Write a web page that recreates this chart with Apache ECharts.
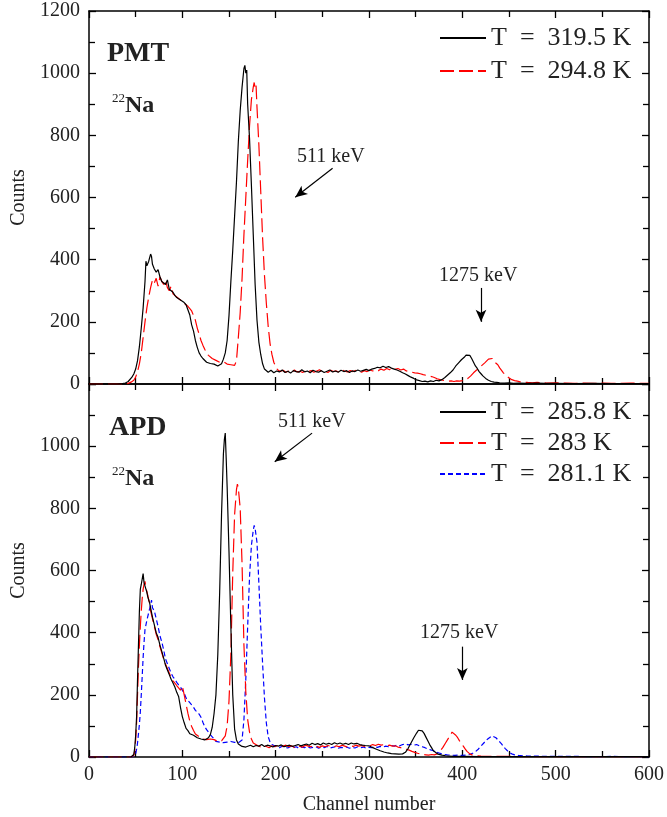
<!DOCTYPE html>
<html>
<head>
<meta charset="utf-8">
<script src="https://cdn.jsdelivr.net/npm/echarts/dist/echarts.min.js"></script>
<style>
html,body{margin:0;padding:0;background:#fff;}
#chart{width:667px;height:817px;}
</style>
</head>
<body>
<div id="chart"></div>
<script>
// ---------- data (channel, counts) ----------
const xTicks = [0, 100, 200, 300, 400, 500, 600];
const yTicks = [0, 200, 400, 600, 800, 1000, 1200];

const seriesNames = {
  pmtA: 'T = 319.5 K', pmtB: 'T = 294.8 K',
  apdA: 'T = 285.8 K', apdB: 'T = 283 K', apdC: 'T = 281.1 K'
};

const pmt3195 = [[0,0],[30,0],[36,1],[39,3],[42,8],[44,14],[46,22],[48,32],[50,48],[52,75],[54,120],[56,180],[58,245],[60,330],[61,395],[62,380],[64,395],[66,418],[67,410],[68,385],[70,370],[72,360],[74,368],[76,345],[78,330],[80,325],[82,320],[84,335],[86,305],[88,300],[90,295],[92,285],[94,278],[96,275],[98,270],[100,268],[102,262],[104,255],[106,250],[108,222],[110,190],[112,170],[114,140],[116,118],[118,100],[120,90],[122,82],[124,78],[126,70],[128,68],[130,66],[132,60],[134,64],[136,62],[138,58],[140,62],[142,65],[144,80],[146,100],[148,140],[150,220],[152,330],[154,430],[156,540],[158,650],[160,780],[162,880],[164,955],[166,1015],[167,1025],[168,1000],[169,1010],[170,900],[172,790],[174,640],[176,480],[178,320],[180,205],[182,135],[184,95],[186,65],[188,48],[190,42],[192,38],[195,44],[198,36],[201,42],[204,39],[207,45],[210,37],[213,41],[216,35],[219,43],[222,40],[225,38],[228,46],[231,39],[234,42],[237,36],[240,44],[243,40],[246,38],[249,43],[252,37],[255,41],[258,45],[261,39],[264,42],[267,38],[270,44],[273,40],[276,43],[279,37],[282,42],[285,40],[288,45],[291,41],[294,44],[297,47],[300,43],[303,48],[306,50],[309,54],[312,52],[315,57],[318,53],[321,56],[324,51],[327,48],[330,45],[333,41],[336,36],[339,32],[342,27],[345,22],[348,18],[351,13],[354,11],[357,8],[360,9],[363,7],[366,10],[369,8],[372,12],[375,10],[378,14],[381,20],[384,28],[387,36],[390,45],[393,58],[396,68],[399,78],[402,86],[404,93],[406,88],[408,92],[410,82],[412,70],[414,58],[416,50],[418,40],[420,33],[422,26],[425,18],[428,12],[431,8],[434,6],[437,5],[440,4],[445,3],[450,4],[455,2],[460,3],[470,2],[480,3],[490,2],[500,2],[520,1],[540,2],[560,1],[580,1],[600,1]];

const pmt2948 = [[0,0],[38,0],[42,2],[45,6],[48,12],[50,22],[52,40],[54,65],[56,100],[58,150],[60,200],[62,245],[64,280],[66,310],[68,335],[70,325],[72,340],[74,315],[76,345],[78,330],[80,320],[82,335],[84,310],[86,300],[88,315],[90,290],[92,295],[94,280],[96,285],[98,270],[100,272],[102,260],[104,262],[106,250],[108,255],[110,235],[112,220],[114,205],[116,180],[118,160],[120,140],[122,125],[124,112],[126,100],[128,92],[130,88],[132,82],[134,78],[136,76],[138,72],[140,70],[142,68],[144,72],[146,66],[148,64],[150,68],[152,62],[154,65],[156,60],[158,75],[160,150],[162,230],[164,340],[166,480],[168,600],[170,720],[172,830],[174,915],[176,955],[177,970],[178,950],[179,960],[180,890],[182,770],[184,620],[186,470],[188,350],[190,260],[192,185],[194,130],[196,95],[198,70],[200,56],[202,46],[205,40],[208,44],[211,38],[214,42],[217,36],[220,45],[223,39],[226,41],[229,37],[232,44],[235,40],[238,43],[241,38],[244,42],[247,46],[250,39],[253,41],[256,37],[259,44],[262,40],[265,42],[268,38],[271,45],[274,41],[277,39],[280,43],[283,40],[286,44],[289,41],[292,38],[295,43],[298,40],[301,45],[304,42],[307,46],[310,43],[313,48],[316,44],[319,50],[322,46],[325,52],[328,47],[331,50],[334,45],[337,48],[340,42],[343,40],[346,38],[349,36],[352,35],[355,33],[358,30],[361,28],[364,26],[367,24],[370,21],[373,17],[376,14],[379,12],[382,11],[385,9],[388,10],[391,8],[394,10],[397,9],[400,11],[403,14],[406,18],[409,26],[412,36],[415,44],[418,52],[421,60],[424,68],[426,74],[428,80],[430,76],[432,82],[434,72],[436,70],[438,62],[440,52],[442,44],[444,36],[446,30],[448,24],[450,19],[453,14],[456,11],[459,9],[462,7],[466,6],[470,5],[475,4],[480,5],[490,3],[500,4],[510,3],[520,2],[530,3],[540,2],[550,3],[560,2],[570,2],[580,3],[590,2],[600,2]];

const apd2858 = [[0,0],[45,0],[47,2],[48,8],[49,30],[50,70],[51,130],[52,250],[53,360],[54,470],[55,540],[56,555],[57,560],[58,590],[59,560],[60,555],[61,540],[62,530],[63,515],[64,505],[65,495],[66,480],[68,450],[70,425],[72,400],[74,385],[76,360],[78,340],[80,318],[82,295],[84,280],[86,265],[88,250],[90,238],[92,225],[94,208],[96,195],[98,160],[100,130],[102,110],[104,92],[106,85],[108,75],[110,78],[112,70],[114,66],[116,62],[118,65],[120,58],[122,60],[124,55],[126,58],[128,62],[130,72],[132,95],[134,140],[136,200],[138,330],[140,530],[142,780],[144,975],[145,1020],[146,1042],[147,960],[148,870],[150,660],[152,420],[154,200],[156,90],[158,55],[160,42],[162,38],[164,34],[166,40],[168,32],[170,36],[173,38],[176,33],[179,37],[182,35],[185,40],[188,34],[191,38],[194,36],[197,32],[200,37],[203,35],[206,39],[209,33],[212,36],[215,38],[218,34],[221,37],[224,40],[227,36],[230,39],[233,42],[236,38],[239,44],[242,40],[245,43],[248,39],[251,45],[254,41],[257,44],[260,40],[263,46],[266,42],[269,45],[272,41],[275,44],[278,40],[281,45],[284,42],[287,44],[290,40],[293,38],[296,37],[300,36],[304,30],[308,25],[312,20],[316,16],[320,13],[324,11],[328,10],[332,9],[336,10],[339,15],[342,28],[345,45],[348,62],[351,77],[353,86],[355,92],[357,84],[359,76],[361,64],[363,52],[365,40],[367,30],[369,20],[371,14],[374,9],[378,6],[382,4],[386,3],[390,2],[400,2],[420,1],[450,1],[500,1],[550,1],[600,1]];

const apd283 = [[0,0],[45,0],[47,2],[48,6],[49,20],[50,55],[51,110],[52,200],[53,290],[54,360],[55,420],[56,470],[57,510],[58,540],[59,555],[60,565],[61,545],[62,540],[63,520],[64,505],[65,495],[66,470],[68,445],[70,420],[72,395],[74,378],[76,355],[78,335],[80,315],[82,298],[84,285],[86,270],[88,255],[90,245],[92,238],[94,230],[96,225],[98,215],[100,228],[102,200],[104,170],[106,140],[108,115],[110,98],[112,85],[114,74],[116,70],[118,65],[120,62],[122,58],[124,60],[126,56],[128,55],[130,58],[132,52],[134,56],[136,54],[138,50],[140,55],[142,52],[144,58],[146,68],[148,100],[150,180],[152,330],[154,590],[156,780],[158,860],[159,878],[160,865],[162,800],[164,620],[166,360],[168,210],[170,120],[172,80],[174,58],[176,45],[178,40],[181,36],[184,32],[187,38],[190,34],[193,30],[196,36],[199,33],[202,37],[205,31],[208,35],[211,38],[214,33],[217,36],[220,31],[223,37],[226,34],[229,32],[232,38],[235,35],[238,33],[241,37],[244,34],[247,31],[250,36],[253,33],[256,37],[259,34],[262,32],[265,36],[268,33],[271,38],[274,35],[277,32],[280,36],[283,34],[286,38],[289,35],[292,37],[295,34],[298,38],[301,36],[304,40],[307,37],[310,41],[313,38],[316,40],[319,36],[322,38],[325,35],[328,36],[331,32],[334,30],[337,28],[340,25],[343,22],[346,18],[349,15],[352,12],[355,10],[358,8],[361,7],[364,6],[367,8],[370,7],[373,10],[376,18],[379,30],[382,45],[385,60],[387,70],[389,80],[391,74],[393,70],[395,62],[397,52],[399,44],[401,35],[403,26],[405,18],[408,10],[411,6],[415,4],[420,3],[430,2],[450,2],[470,1],[500,1],[550,1],[600,1]];

const apd2811 = [[0,0],[46,0],[48,3],[50,10],[51,25],[52,45],[53,75],[54,105],[55,145],[56,200],[57,260],[58,320],[59,370],[60,410],[62,440],[64,465],[66,490],[67,505],[68,480],[70,470],[72,445],[74,420],[76,390],[78,370],[80,345],[82,315],[84,300],[86,285],[88,270],[90,258],[92,250],[94,240],[96,232],[98,225],[100,215],[102,205],[104,190],[106,182],[108,175],[110,168],[112,160],[114,150],[116,145],[118,138],[120,128],[122,112],[124,98],[126,88],[128,80],[130,72],[132,65],[134,58],[136,50],[138,52],[140,48],[142,50],[144,46],[146,52],[148,48],[150,45],[152,50],[154,44],[156,47],[158,42],[160,46],[162,44],[164,55],[166,120],[168,250],[170,420],[172,580],[174,680],[176,730],[177,745],[178,735],[180,690],[182,560],[184,420],[186,300],[188,190],[190,110],[192,65],[194,48],[196,40],[198,36],[201,33],[204,30],[207,35],[210,31],[213,29],[216,34],[219,30],[222,33],[225,28],[228,32],[231,30],[234,34],[237,29],[240,31],[243,33],[246,28],[249,32],[252,30],[255,34],[258,29],[261,31],[264,33],[267,28],[270,31],[273,30],[276,32],[279,28],[282,31],[285,29],[288,33],[291,30],[294,32],[297,28],[300,31],[303,30],[306,33],[309,31],[312,34],[315,32],[318,35],[321,33],[324,37],[327,35],[330,38],[333,36],[336,40],[339,42],[342,39],[345,41],[348,38],[351,40],[354,36],[357,33],[360,30],[363,26],[366,23],[369,20],[372,16],[375,13],[378,10],[381,8],[384,7],[388,6],[392,5],[396,6],[400,5],[404,6],[408,8],[411,12],[414,17],[417,25],[420,35],[423,45],[426,55],[429,62],[432,68],[434,66],[436,62],[438,56],[440,49],[442,42],[444,34],[446,27],[448,21],[450,15],[453,10],[456,7],[460,5],[465,4],[470,3],[480,3],[490,2],[500,2],[520,2],[540,1],[560,2],[580,1],[600,1]];

// annotation arrows in data coordinates [from, to]
const pmtArrows = [[[261, 694], [221, 601]], [[420, 309], [420, 200]]];
const apdArrows = [[[239, 1042], [199, 950]], [[400, 355], [400, 248]]];

// ---------- chart ----------
const FONT = '"Liberation Serif", "DejaVu Serif", serif';
const TXT = '#222';
const chart = echarts.init(document.getElementById('chart'), null, {renderer: 'canvas'});

function xAx(grid, pos, labels) {
  return {
    type: 'value', gridIndex: grid, position: pos, min: 0, max: 600, interval: 100,
    axisLine: {show: true, onZero: false, lineStyle: {color: '#000', width: 1.5}},
    axisTick: {show: true, inside: true, length: 7, lineStyle: {color: '#000', width: 1.3}},
    minorTick: {show: true, splitNumber: 2, length: 6, lineStyle: {color: '#000', width: 1.3}},
    splitLine: {show: false}, minorSplitLine: {show: false},
    axisLabel: {show: labels, color: TXT, fontFamily: FONT, fontSize: 20, margin: 8,
      formatter: v => String(v)},
    name: labels ? 'Channel number' : '', nameLocation: 'middle', nameGap: 38,
    nameTextStyle: {color: TXT, fontFamily: FONT, fontSize: 20}
  };
}
function yAx(grid, pos, labels, showMax) {
  return {
    type: 'value', gridIndex: grid, position: pos, min: 0, max: 1200, interval: 200,
    axisLine: {show: true, onZero: false, lineStyle: {color: '#000', width: 1.5}},
    axisTick: {show: true, inside: true, length: 7, lineStyle: {color: '#000', width: 1.3}},
    minorTick: {show: true, splitNumber: 2, length: 6, lineStyle: {color: '#000', width: 1.3}},
    splitLine: {show: false}, minorSplitLine: {show: false},
    axisLabel: {show: labels, color: TXT, fontFamily: FONT, fontSize: 20, margin: 9, showMaxLabel: showMax,
      formatter: v => String(v)},
    name: labels ? 'Counts' : '', nameLocation: 'middle', nameGap: 60,
    nameTextStyle: {color: TXT, fontFamily: FONT, fontSize: 20}
  };
}
function arrowLine(arrows) {
  return {
    silent: true, animation: false, symbol: ['none', 'arrow'], symbolSize: [8, 12],
    label: {show: false}, lineStyle: {color: '#000', width: 1.2, type: 'solid'},
    emphasis: {disabled: true},
    data: arrows.map(a => [{coord: a[0]}, {coord: a[1]}])
  };
}
function line(name, data, xi, yi, color, dash, ml) {
  const s = {
    name: name, type: 'line', data: data, xAxisIndex: xi, yAxisIndex: yi,
    symbol: 'none', showSymbol: false, smooth: false, animation: false,
    lineStyle: {color: color, width: 1.2, type: dash},
    itemStyle: {color: color}, emphasis: {disabled: true}, z: 3
  };
  if (ml) s.markLine = ml;
  return s;
}
const legendText = {color: TXT, fontFamily: FONT, fontSize: 26, lineHeight: 26};
const fmt = n => n.replace(/ = /, '\u2002=\u2002');
const legendBase = {
  orient: 'vertical', left: 434, itemWidth: 46, itemHeight: 14,
  textStyle: legendText, formatter: fmt, selectedMode: false,
  itemStyle: {opacity: 0, borderWidth: 0}
};

const option = {
  backgroundColor: '#fff',
  animation: false,
  grid: [
    {left: 89, top: 11, width: 560, height: 373},
    {left: 89, top: 384, width: 560, height: 373}
  ],
  xAxis: [xAx(0, 'bottom', false), xAx(0, 'top', false), xAx(1, 'bottom', true), xAx(1, 'top', false)],
  yAxis: [yAx(0, 'left', true, true), yAx(0, 'right', false, true), yAx(1, 'left', true, false), yAx(1, 'right', false, false)],
  legend: [
    Object.assign({}, legendBase, {data: [seriesNames.pmtA, seriesNames.pmtB], top: 20, itemGap: 7}),
    Object.assign({}, legendBase, {data: [seriesNames.apdA, seriesNames.apdB, seriesNames.apdC], top: 394, itemGap: 5})
  ],
  series: [
    line(seriesNames.pmtB, pmt2948, 0, 0, '#ff0000', [14, 5]),
    line(seriesNames.pmtA, pmt3195, 0, 0, '#000000', 'solid', arrowLine(pmtArrows)),
    line(seriesNames.apdC, apd2811, 2, 2, '#0000ff', [5, 3]),
    line(seriesNames.apdB, apd283, 2, 2, '#ff0000', [14, 5]),
    line(seriesNames.apdA, apd2858, 2, 2, '#000000', 'solid', arrowLine(apdArrows))
  ],
  graphic: [
    {type: 'text', left: 107, top: 40, style: {text: 'PMT', fill: TXT, font: 'bold 28px ' + FONT}},
    {type: 'text', left: 112, top: 92, style: {text: '{s|22}{b|Na}', fill: TXT, rich: {
      s: {fontSize: 13, fontFamily: FONT, verticalAlign: 'top', lineHeight: 13, fill: TXT},
      b: {fontSize: 24, fontFamily: FONT, fontWeight: 'bold', lineHeight: 28, fill: TXT}}}},
    {type: 'text', left: 297, top: 147, style: {text: '511 keV', fill: TXT, font: '20px ' + FONT}},
    {type: 'text', left: 439, top: 266, style: {text: '1275 keV', fill: TXT, font: '20px ' + FONT}},
    {type: 'text', left: 109, top: 414, style: {text: 'APD', fill: TXT, font: 'bold 28px ' + FONT}},
    {type: 'text', left: 112, top: 465, style: {text: '{s|22}{b|Na}', fill: TXT, rich: {
      s: {fontSize: 13, fontFamily: FONT, verticalAlign: 'top', lineHeight: 13, fill: TXT},
      b: {fontSize: 24, fontFamily: FONT, fontWeight: 'bold', lineHeight: 28, fill: TXT}}}},
    {type: 'text', left: 278, top: 412, style: {text: '511 keV', fill: TXT, font: '20px ' + FONT}},
    {type: 'text', left: 420, top: 623, style: {text: '1275 keV', fill: TXT, font: '20px ' + FONT}}
  ]
};
chart.setOption(option);
</script>
</body>
</html>
